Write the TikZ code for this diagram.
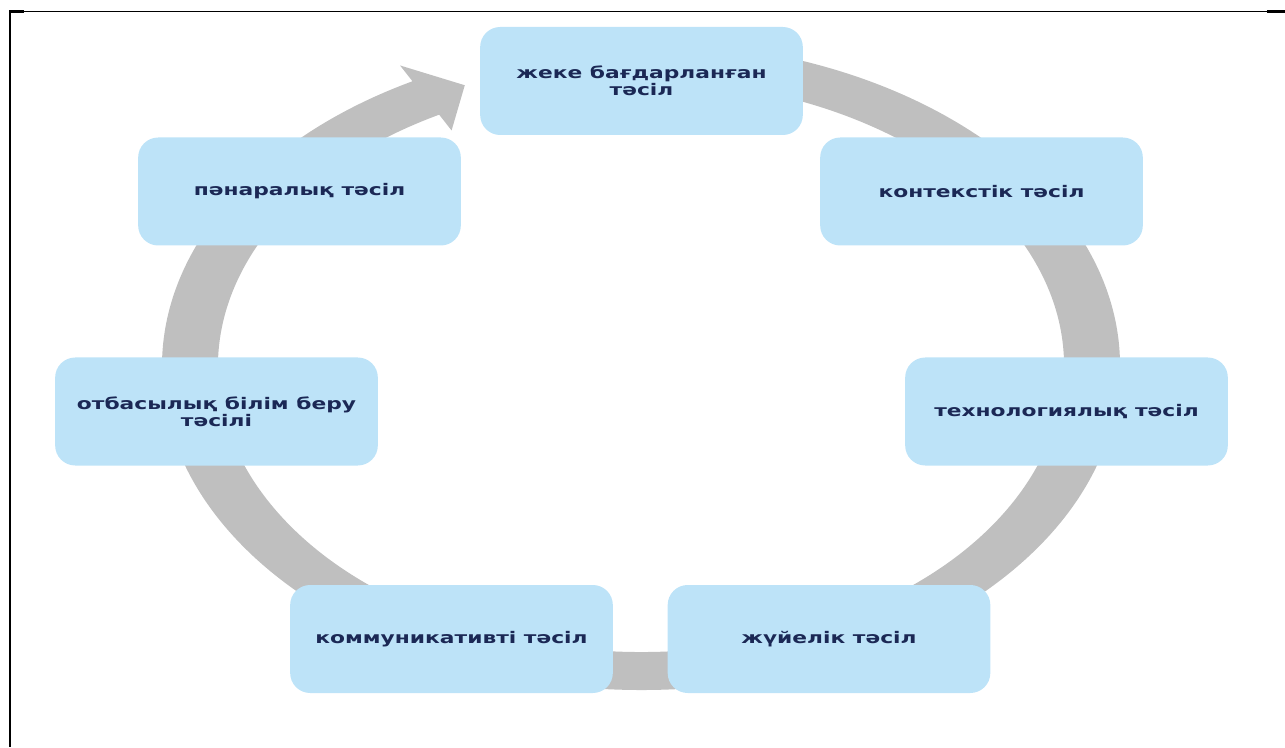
\documentclass[tikz,border=0pt]{standalone}
\usepackage{fontspec}
\newfontfamily\boxfont{DejaVu Sans}[FakeStretch=1.36]
\definecolor{boxblue}{RGB}{189,227,248}
\definecolor{ringgray}{RGB}{191,191,191}
\definecolor{navy}{RGB}{27,40,85}
\begin{document}
\begin{tikzpicture}[x=0.75pt,y=0.75pt,
  box/.style={fill=boxblue, rounded corners=15pt, minimum width=242pt, minimum height=81pt,
    inner sep=0pt, align=center, text=navy, font=\boxfont\bfseries\fontsize{12}{12.5}\selectfont}]
\useasboundingbox (0,0) rectangle (1285,747);
% frame
\draw[line width=0.9pt] (9,735.5) -- (1285,735.5);
\draw[line width=1.9pt] (10,736.5) -- (10,0);
\fill (9,734.3) rectangle (24,737);
\fill (1267,734.3) rectangle (1285,737);
% ring with arrow
\begin{scope}[shift={(641,381)}]
\fill[ringgray] ({479*cos(85)},{324*sin(85)})
  arc[start angle=85,end angle=-241.5,x radius=479,y radius=324]
  -- ({505*cos(-241.5)},{342*sin(-241.5)})
  -- ({451*cos(-247)},{305*sin(-247)})
  -- ({397*cos(-241.5)},{268*sin(-241.5)})
  -- ({423*cos(-241.5)},{286*sin(-241.5)})
  arc[start angle=-241.5,end angle=85,x radius=423,y radius=286] -- cycle;
\end{scope}
% boxes
\node[box] (n1) at (641.5,666) {жеке бағдарланған\\тәсіл};
\node[box] (n2) at (981.5,555.5) {контекстік тәсіл};
\node[box] (n3) at (1066.5,335.5) {технологиялық тәсіл};
\node[box] (n4) at (829,108) {жүйелік тәсіл};
\node[box] (n5) at (451.5,108) {коммуникативті тәсіл};
\node[box] (n6) at (216.5,335.5) {отбасылық білім беру\\тәсілі};
\node[box] (n7) at (299.5,555.5) {пәнаралық тәсіл};
\end{tikzpicture}
\end{document}
